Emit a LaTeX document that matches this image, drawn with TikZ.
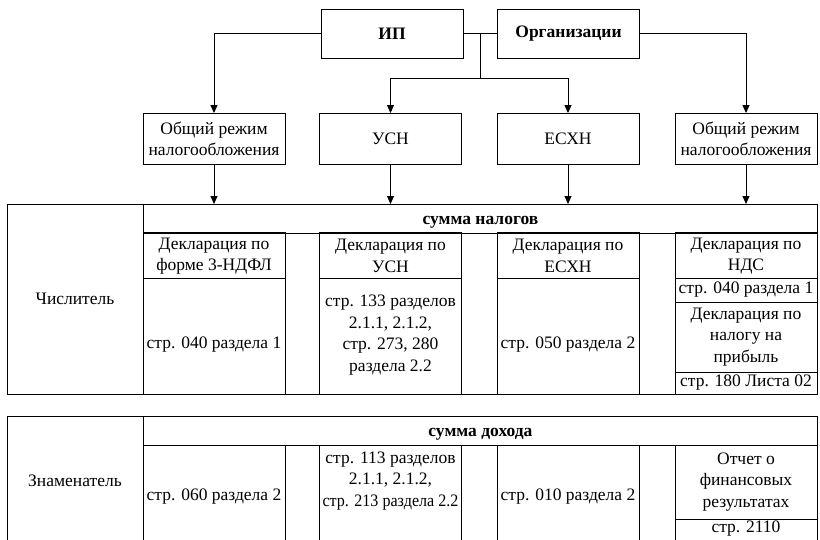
\documentclass[tikz,border=0pt]{standalone}
\usepackage{fontspec}
\setmainfont{Liberation Serif}
\usetikzlibrary{arrows.meta,positioning,calc}

\begin{document}
\begin{tikzpicture}[x=1pt, y=-1pt, line width=0.9pt,
      box/.style={draw, inner sep=0pt, align=center, minimum width=142pt, minimum height=51pt,
                  font=\fontsize{17.5}{21.5}\selectfont},
      hdr/.style={draw, inner sep=0pt, anchor=north west, minimum width=674pt, minimum height=29pt,
                  text height=14pt, text depth=2pt, font=\fontsize{17.5}{21.5}\selectfont\bfseries},
      txt/.style={inner sep=0pt, align=center, font=\fontsize{17.5}{21.5}\selectfont},
      arr/.style={-{Triangle[length=8pt, width=7pt]}}]
    \useasboundingbox (0,0) rectangle (820,539);
    \clip (0,0) rectangle (820,539);

    % taxpayers
    \node[box, minimum height=49pt, font=\fontsize{17.5}{21.5}\selectfont\bfseries] (ip) at (392,33.5) {ИП};
    \node[box, minimum height=49pt, font=\fontsize{17.5}{21.5}\selectfont\bfseries] (org) at (568.5,33.5) {Организации};

    % tax regimes
    \node[box] (gen1) at (214,139) {Общий режим\\налогообложения};
    \node[box] (usn) at (390.5,139) {УСН};
    \node[box] (eshn) at (568,139) {ЕСХН};
    \node[box] (gen2) at (746,139) {Общий режим\\налогообложения};

    \coordinate (split) at ($(ip.east)!0.5!(org.west)$);
    \coordinate (fork) at ($(split)+(0,45)$);
    \draw (ip.east) -- (org.west);
    \draw[arr] (ip.west) -| (gen1.north);
    \draw[arr] (org.east) -| (gen2.north);
    \draw (split) -- (fork);
    \draw[arr] (fork) -| (usn.north);
    \draw[arr] (fork) -| (eshn.north);

    % numerator table
    \node[hdr] (sumtax) at (143,204) {сумма налогов};
    \draw (7,204) rectangle (817,394);
    \draw (143,204) -- (143,394);
    \foreach \x in {143,319,497,675} {
      \draw (\x,232) rectangle ++(142,46);
      \draw (\x,278) rectangle ++(142,116);
    }
    \draw (675,302) -- (817,302);
    \draw (675,372) -- (817,372);
    \foreach \src in {gen1,usn,eshn,gen2}
      \draw[arr] (\src.south) -- (\src |- sumtax.north);

    \node[txt] (numlbl) at (75,299) {Числитель};
    \node[txt] (ndfl) at (214,256) {Декларация по\\форме 3-НДФЛ};
    \node[txt] (usnd) at (390.5,256) {Декларация по\\УСН};
    \node[txt] (eshnd) at (568,256) {Декларация по\\ЕСХН};
    \node[txt] (ndsd) at (746,256) {Декларация по\\НДС};
    \node[txt] (ndflrow) at (214,345) {стр. 040 раздела 1};
    \node[txt] (usnrow) at (390.5,335) {стр. 133 разделов\\2.1.1, 2.1.2,\\стр. 273, 280\\раздела 2.2};
    \node[txt] (eshnrow) at (568,345) {стр. 050 раздела 2};
    \node[txt] (ndsrow) at (746,290) {стр. 040 раздела 1};
    \node[txt] (profd) at (746,337) {Декларация по\\налогу на\\прибыль};
    \node[txt] (profrow) at (746,383) {стр. 180 Листа 02};

    % denominator table
    \node[hdr] (suminc) at (143,416) {сумма дохода};
    \draw (7,416) rectangle (817,570);
    \draw (143,416) -- (143,570);
    \foreach \x in {143,319,497,675}
      \draw (\x,445) rectangle ++(142,125);
    \draw (675,519) -- (817,519);

    \node[txt] (denlbl) at (75,481) {Знаменатель};
    \node[txt] (ndflinc) at (214,497) {стр. 060 раздела 2};
    \node[txt] (usninc) at (390.5,481) {стр. 113 разделов\\2.1.1, 2.1.2,\\\scalebox{0.92}[1]{стр. 213 раздела 2.2}};
    \node[txt] (eshninc) at (568,497) {стр. 010 раздела 2};
    \node[txt] (finrep) at (746,482) {Отчет о\\финансовых\\результатах};
    \node[txt] (finrow) at (746,529) {стр. 2110};
  \end{tikzpicture}
\end{document}
